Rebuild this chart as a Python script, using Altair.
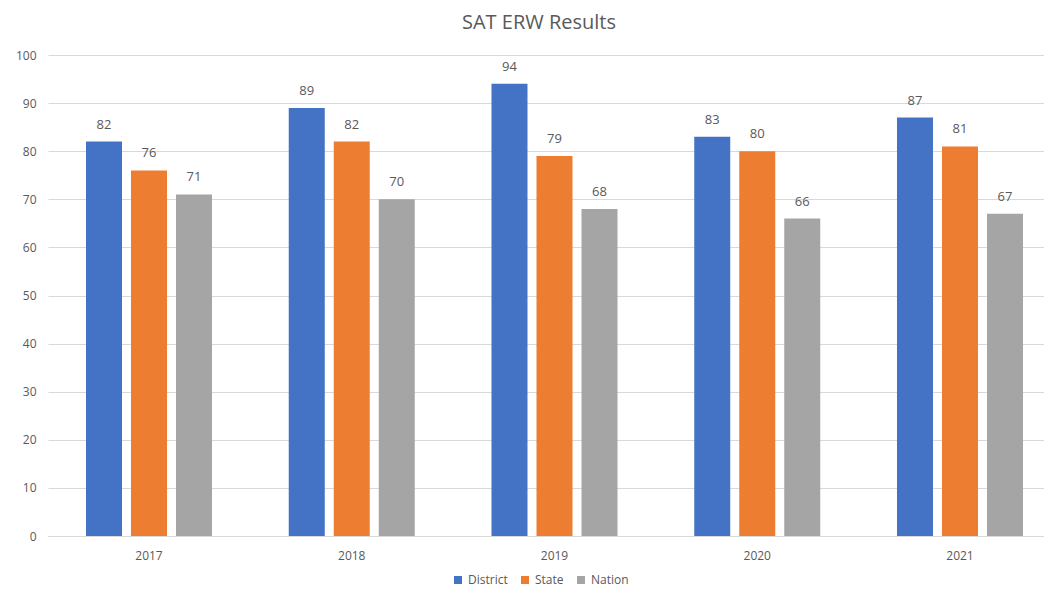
import altair as alt
import pandas as pd

years = ["2017", "2018", "2019", "2020", "2021"]
series = ["District", "State", "Nation"]
district = [82, 89, 94, 83, 87]
state = [76, 82, 79, 80, 81]
nation = [71, 70, 68, 66, 67]
colors = ["#4472C4", "#ED7D31", "#A5A5A5"]

rows = []
for name, vals in zip(series, [district, state, nation]):
    for y, v in zip(years, vals):
        rows.append({"Year": y, "Series": name, "Value": v})
df = pd.DataFrame(rows)

FONT = "Open Sans"
GREY = "#595959"

x = alt.X("Year:N", sort=years, title=None,
          scale=alt.Scale(paddingInner=0.3785, paddingOuter=0.1455, align=0.644),
          axis=alt.Axis(labelAngle=0, ticks=False, domainColor="#d9d9d9",
                        labelColor=GREY, labelFontSize=12, labelFont=FONT,
                        labelPadding=14, grid=False))
xo = alt.XOffset("Series:N", sort=series,
                 scale=alt.Scale(paddingInner=0.2, paddingOuter=0))
y = alt.Y("Value:Q", title=None,
          scale=alt.Scale(domain=[0, 100]),
          axis=alt.Axis(values=list(range(0, 101, 10)), ticks=False, domain=False,
                        gridColor="#d9d9d9", labelColor=GREY, labelFontSize=12,
                        labelFont=FONT, labelPadding=12))

bars = alt.Chart(df).mark_bar().encode(
    x=x, xOffset=xo, y=y,
    color=alt.Color("Series:N", sort=series, title=None,
                    scale=alt.Scale(domain=series, range=colors),
                    legend=alt.Legend(orient="none", legendX=404, legendY=519,
                                      direction="horizontal", symbolType="square",
                                      symbolSize=64, symbolStrokeWidth=0,
                                      labelFont=FONT, labelFontSize=12,
                                      labelColor=GREY, columnPadding=11,
                                      labelOffset=4)),
)

labels = alt.Chart(df).mark_text(dy=-10, baseline="bottom", font=FONT,
                                 fontSize=13, color=GREY).encode(
    x=x, xOffset=xo, y=y, text="Value:Q"
)

chart = alt.layer(bars, labels).properties(
    width=996, height=481,
    autosize=alt.AutoSizeParams(type="none"),
    padding={"left": 40, "top": 47, "right": 0, "bottom": 54},
    title=alt.TitleParams("SAT ERW Results", font=FONT, fontSize=20,
                          fontWeight="normal", color=GREY, offset=16, dx=-7),
).configure_view(stroke=None)

chart.save("out.html", embed_options={"renderer": "svg", "actions": False})
